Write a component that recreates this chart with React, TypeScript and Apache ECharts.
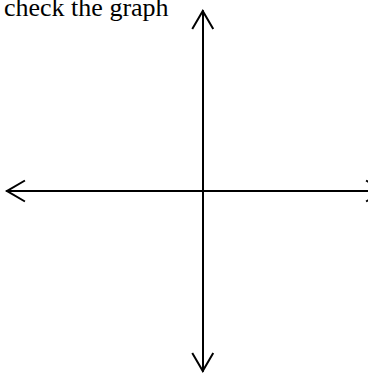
import React, { useEffect, useRef } from "react";
import * as echarts from "echarts";

const titleText = "check the graph";
const xRange = [-10.8, 10];
const yRange = [-10, 10];

const chevron = "path://M0,-1.99 L11.36,17.5 L9.64,18.5 L0,1.99 L-9.64,18.5 L-11.36,17.5 Z";

export default function App() {
  const ref = useRef<HTMLDivElement>(null);
  useEffect(() => {
    if (!ref.current) return;
    const chart = echarts.init(ref.current, null, { renderer: "svg" });
    const axisCommon = {
      type: "value" as const,
      axisLine: {
        show: true,
        onZero: true,
        symbol: [chevron, chevron],
        symbolSize: [22.72, 20.49],
        symbolOffset: [8.2, -8.2],
        lineStyle: { color: "#000", width: 2 },
      },
      axisTick: { show: false },
      axisLabel: { show: false },
      splitLine: { show: false },
    };
    chart.setOption({
      animation: false,
      backgroundColor: "#fff",
      title: {
        text: titleText,
        left: 4,
        top: 0,
        padding: 0,
        textStyle: {
          fontFamily: "Liberation Serif",
          fontSize: 26,
          lineHeight: 14,
          fontWeight: "normal",
          color: "#000",
        },
      },
      grid: {
        left: 7,
        width: 377,
        top: 11,
        height: 360,
        containLabel: false,
        outerBoundsMode: "none",
      },
      xAxis: { ...axisCommon, min: xRange[0], max: xRange[1] },
      yAxis: { ...axisCommon, min: yRange[0], max: yRange[1] },
      series: [{ type: "scatter", data: [] }],
    });
    return () => chart.dispose();
  }, []);
  return (
    <div
      ref={ref}
      style={{ position: "absolute", left: 0, top: 0, width: 368, height: 374 }}
    />
  );
}
